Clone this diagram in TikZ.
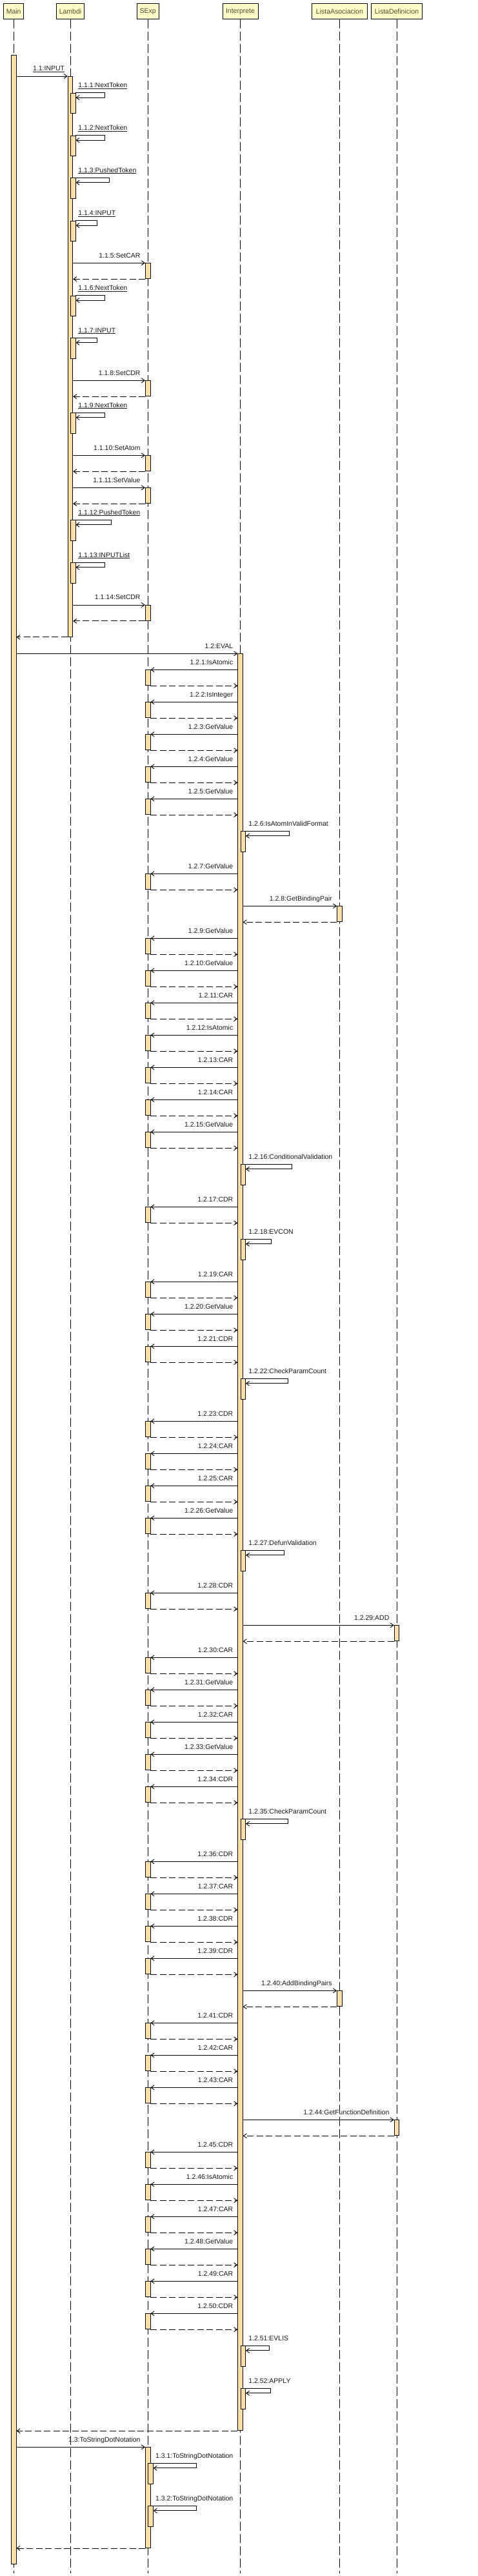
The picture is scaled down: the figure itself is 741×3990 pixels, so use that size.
\documentclass[tikz,border=0pt]{standalone}
\usepackage{fontspec}
\setmainfont{Liberation Sans}
\usetikzlibrary{arrows.meta, positioning, calc}
\definecolor{headfill}{HTML}{FFFFC8}
\definecolor{headtext}{HTML}{4A4A30}
\definecolor{actfill}{HTML}{FFE0A4}
\newcommand{\msgfont}{\fontsize{10.5}{12}\selectfont}
\tikzset{
  head/.style={draw, fill=headfill, text=headtext, font=\msgfont,
               minimum height=23.6pt, inner sep=0pt},
  act/.style={draw, fill=actfill, minimum width=7.5pt, inner sep=0pt},
  lifeline/.style={dash pattern=on 14pt off 5pt},
  msg/.style={-{Straight Barb[length=5pt,width=7pt]}},
  ret/.style={msg, dash pattern=on 10pt off 4.5pt},
  lbl/.style={font=\msgfont, inner sep=0pt, text=black!90},
}

\begin{document}
\begin{tikzpicture}[x=1pt, y=-1pt, line width=0.9pt]
  \useasboundingbox (0,0) rectangle (741,3990);
  \coordinate (bot) at (0,3986);

  %% Lifeline heads
  \node[head, minimum width=30.6pt] (main)   at (21.2,17.5)  {Main};
  \node[head, minimum width=43pt]   (lambdi) at (109,17.5)   {Lambdi};
  \node[head, minimum width=34pt]   (sexp)   at (229.2,17.5) {SExp};
  \node[head, minimum width=55pt]   (interp) at (372.5,17.5) {Interprete};
  \node[head, minimum width=86pt]   (lasoc)  at (526.4,17.5) {ListaAsociacion};
  \node[head, minimum width=79pt]   (ldef)   at (615,17.5)   {ListaDefinicion};

  %% Lifelines
  \foreach \h in {main, lambdi, sexp, interp, lasoc, ldef}
    \draw[lifeline] (\h.south) -- (\h.south |- bot);

  %% Activation bars
  \node[act, anchor=north, minimum height=3886pt] (amain) at (main |- 0,85) {};
  \node[act, anchor=north, minimum height=868pt] (alam) at (lambdi |- 0,118) {};
  \node[act, anchor=north, minimum height=2752pt] (aint) at (interp |- 0,1012.3) {};
  \node[act, anchor=north, minimum height=155.7pt] (astr) at (sexp |- 0,3790.3) {};

  %% 1.1 INPUT
  \draw[msg] (amain.east |- alam.north) -- (alam.north west);
  \node[lbl, anchor=base east] (m11) at ([shift={(-4.2,-8.3)}]alam.north west)
    {\underline{1.1:INPUT}};
  \draw[ret] (alam.south west) -- (amain.east |- alam.south);

  %% Lambdi self calls
  \foreach \n/\lbl/\y/\w in {1/NextToken/143.7/45, 2/NextToken/209.7/45,
      3/PushedToken/275.3/52, 4/INPUT/341.7/33, 6/NextToken/457.7/45,
      7/INPUT/523.3/33, 9/NextToken/639.3/45, 12/PushedToken/805.3/55,
      13/INPUTList/871.3/45}{
    \node[act, anchor=north west, minimum height=31.6pt] (ls\n) at (alam.center |- 0,\y) {};
    \draw[msg] (ls\n.north east) -- ++(\w,0) -- ++(0,7.5) -- ++(-\w,0);
    \node[lbl, anchor=base west] (lt\n) at ([shift={(12,-8.3)}]ls\n.north west)
      {\underline{1.1.\n:\lbl}};
  }

  %% Lambdi -> SExp
  \foreach \n/\lbl/\y in {5/SetCAR/407.3, 8/SetCDR/589.3, 10/SetAtom/705.3,
      11/SetValue/755.3, 14/SetCDR/937}{
    \node[act, anchor=north, minimum height=24pt] (sl\n) at (sexp |- 0,\y) {};
    \draw[msg] (alam.east |- sl\n.north) -- (sl\n.north west);
    \draw[ret] (sl\n.south west) -- (alam.east |- sl\n.south);
    \node[lbl, anchor=base east] (st\n) at ([shift={(-7,-8.3)}]sl\n.north west) {1.1.\n:\lbl};
  }

  %% 1.2 EVAL
  \draw[msg] (amain.east |- aint.north) -- (aint.north west);
  \node[lbl, anchor=base east] (m12) at ([shift={(-6.6,-8.3)}]aint.north west) {1.2:EVAL};
  \draw[ret] (aint.south west) -- (amain.east |- aint.south);

  %% Interprete -> SExp
  \foreach \n/\lbl/\y in {1/IsAtomic/1037.3, 2/IsInteger/1087.3, 3/GetValue/1137.3,
      4/GetValue/1187.3, 5/GetValue/1237.3, 7/GetValue/1353.3, 9/GetValue/1453.3,
      10/GetValue/1503.3, 11/CAR/1553.3, 12/IsAtomic/1603.3, 13/CAR/1653.3,
      14/CAR/1703.3, 15/GetValue/1753.3, 17/CDR/1869.3, 19/CAR/1985.3,
      20/GetValue/2035.3, 21/CDR/2085.3, 23/CDR/2201.3, 24/CAR/2251.3,
      25/CAR/2301.3, 26/GetValue/2351.3, 28/CDR/2467.3, 30/CAR/2567.3,
      31/GetValue/2617.3, 32/CAR/2667.3, 33/GetValue/2717.3, 34/CDR/2767.3,
      36/CDR/2883.3, 37/CAR/2933.3, 38/CDR/2983.3, 39/CDR/3033.3,
      41/CDR/3133.3, 42/CAR/3183.3, 43/CAR/3233.3, 45/CDR/3333.3,
      46/IsAtomic/3383.3, 47/CAR/3433.3, 48/GetValue/3483.3, 49/CAR/3533.3,
      50/CDR/3583.3}{
    \node[act, anchor=north, minimum height=24pt] (s\n) at (sexp |- 0,\y) {};
    \draw[msg] (aint.west |- s\n.north) -- (s\n.north east);
    \draw[ret] (s\n.south east) -- (aint.west |- s\n.south);
    \node[lbl, anchor=base east] (t\n) at ($(aint.west |- s\n.north)+(-6.6,-8.3)$) {1.2.\n:\lbl};
  }

  %% Interprete self calls
  \foreach \n/\lbl/\y/\w in {6/IsAtomInValidFormat/1287.3/67.5,
      16/ConditionalValidation/1803.3/72, 18/EVCON/1919.3/40,
      22/CheckParamCount/2135.3/66, 27/DefunValidation/2401.3/60,
      35/CheckParamCount/2817.3/66, 51/EVLIS/3633.3/37, 52/APPLY/3699.3/39}{
    \node[act, anchor=north west, minimum height=31.6pt] (is\n) at (aint.center |- 0,\y) {};
    \draw[msg] (is\n.north east) -- ++(\w,0) -- ++(0,7.5) -- ++(-\w,0);
    \node[lbl, anchor=base west] (u\n) at ([shift={(12.4,-8.3)}]is\n.north west) {1.2.\n:\lbl};
  }

  %% Interprete -> ListaAsociacion / ListaDefinicion
  \foreach \n/\lbl/\tgt/\y in {8/GetBindingPair/lasoc/1403.3, 29/ADD/ldef/2517.3,
      40/AddBindingPairs/lasoc/3083.3, 44/GetFunctionDefinition/ldef/3283.3}{
    \node[act, anchor=north, minimum height=24pt] (f\n) at (\tgt |- 0,\y) {};
    \draw[msg] (aint.east |- f\n.north) -- (f\n.north west);
    \draw[ret] (f\n.south west) -- (aint.east |- f\n.south);
    \node[lbl, anchor=base east] (ft\n) at ([shift={(-7,-8.3)}]f\n.north west) {1.2.\n:\lbl};
  }

  %% 1.3 ToStringDotNotation
  \draw[msg] (amain.east |- astr.north) -- (astr.north west);
  \node[lbl, anchor=base east] (m13) at ([shift={(-7,-8.3)}]astr.north west) {1.3:ToStringDotNotation};
  \draw[ret] (astr.south west) -- (amain.east |- astr.south);
  \foreach \n/\y in {1/3815.3, 2/3881.3}{
    \node[act, anchor=north west, minimum height=31.6pt] (ts\n) at (astr.center |- 0,\y) {};
    \draw[msg] (ts\n.north east) -- ++(67,0) -- ++(0,7.5) -- ++(-67,0);
    \node[lbl, anchor=base west] (tt\n) at ([shift={(11.4,-8.3)}]ts\n.north west) {1.3.\n:ToStringDotNotation};
  }

\end{tikzpicture}
\end{document}
